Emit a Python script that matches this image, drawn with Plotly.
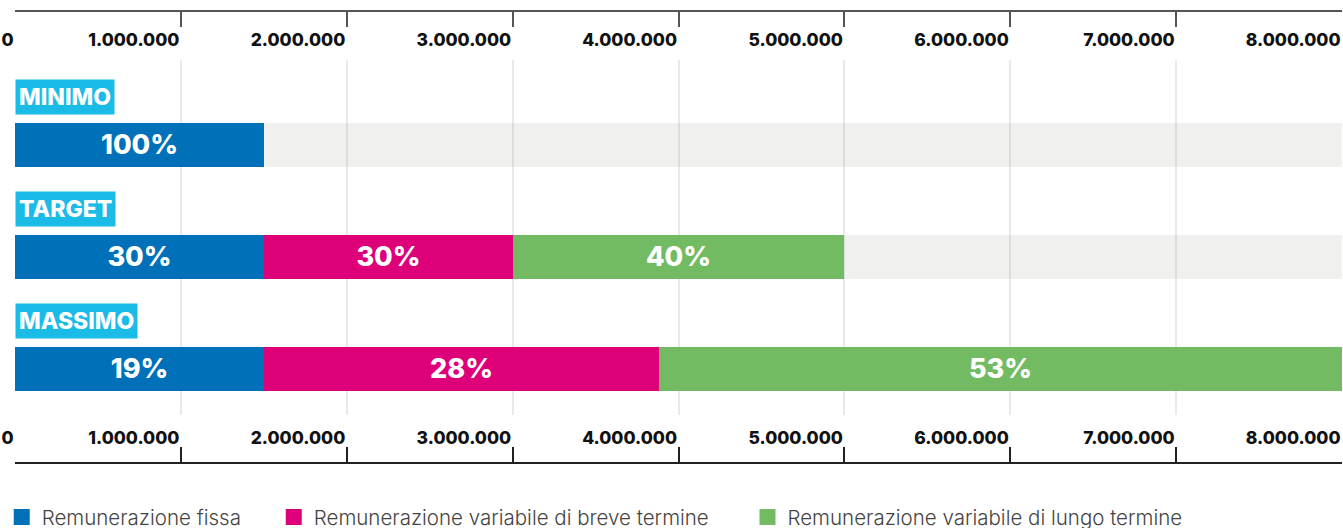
import plotly.graph_objects as go

categories = ["MINIMO", "TARGET", "MASSIMO"]
fissa = [1500000, 1500000, 1500000]
breve = [0, 1500000, 2380000]
lungo = [0, 2000000, 4120000]
pct_fissa = ["100%", "30%", "19%"]
pct_breve = ["", "30%", "28%"]
pct_lungo = ["", "40%", "53%"]
axis_max = 8000000
tick_vals = [0, 1000000, 2000000, 3000000, 4000000, 5000000, 6000000, 7000000, 8000000]
tick_text = ["0", "1.000.000", "2.000.000", "3.000.000", "4.000.000",
             "5.000.000", "6.000.000", "7.000.000", "8.000.000"]
series_names = ["Remunerazione fissa", "Remunerazione variabile di breve termine",
                "Remunerazione variabile di lungo termine"]

rows = list(range(len(categories)))
rest = [axis_max - (a + b + c) for a, b, c in zip(fissa, breve, lungo)]

BLUE = "#0070b8"
MAGENTA = "#dd0079"
GREEN = "#72bb63"
CYAN = "#1bbbe8"
FONT = "Inter"

fig = go.Figure()
bar_width = 0.393
textfont = dict(family=FONT, size=27, color="white", weight=800)
colors = [BLUE, MAGENTA, GREEN]
legend_ids = ["legend", "legend2", "legend3"]

for name, vals, txt, col in zip(series_names, [fissa, breve, lungo],
                                [pct_fissa, pct_breve, pct_lungo], colors):
    fig.add_trace(go.Bar(
        y=rows, x=vals, orientation="h", name=name, showlegend=False,
        marker=dict(color=col, line=dict(width=0)),
        width=bar_width, text=txt, textposition="inside", insidetextanchor="middle",
        textfont=textfont, constraintext="none", hoverinfo="skip",
    ))

fig.add_trace(go.Bar(
    y=rows, x=rest, orientation="h", showlegend=False,
    marker=dict(color="rgba(120,120,100,0.11)", line=dict(width=0)),
    width=bar_width, hoverinfo="skip",
))

# legend keys (one legend per series, placed like the reference)
for name, col, lg in zip(series_names, colors, legend_ids):
    fig.add_trace(go.Scatter(
        x=[None], y=[None], mode="markers", name=name, legend=lg,
        marker=dict(symbol="square", size=16, color=col, line=dict(width=0)),
        hoverinfo="skip",
    ))

# dummy traces so the top and bottom axes are drawn
for xa in ["x2", "x3"]:
    fig.add_trace(go.Scatter(x=[0], y=[0], xaxis=xa, yaxis="y", mode="markers",
                             marker=dict(opacity=0), showlegend=False, hoverinfo="skip"))

for i, cat in enumerate(categories):
    fig.add_annotation(
        x=0, y=i, xref="x", yref="y", xanchor="left", yanchor="middle", yshift=48,
        text=cat, showarrow=False, bgcolor=CYAN, borderpad=3,
        font=dict(family=FONT, size=23, color="white", weight=800),
    )

tickfont = dict(family=FONT, size=17.5, color="#111", weight=800)
common = dict(range=[0, axis_max], tickvals=tick_vals, ticktext=tick_text, showgrid=False,
              zeroline=False, ticks="inside", ticklen=15, showline=True,
              ticklabelposition="inside left", ticklabeloverflow="allow",
              tickfont=tickfont, fixedrange=True, automargin=False)

legfont = dict(family=FONT, size=20.5, color="#444", weight=300)
leg_common = dict(orientation="h", xanchor="left", y=-0.0755, yanchor="top",
                  font=legfont, itemclick=False, itemdoubleclick=False,
                  bgcolor="rgba(0,0,0,0)", itemsizing="trace")

fig.update_layout(
    width=1343, height=528,
    margin=dict(l=15, r=1, t=11, b=65, autoexpand=False),
    paper_bgcolor="white", plot_bgcolor="white",
    barmode="stack",
    bargap=0,
    xaxis=dict(range=[0, axis_max], tickvals=tick_vals, showticklabels=False, showgrid=True,
               gridcolor="#e9e9e9", gridwidth=1.5, zeroline=False, ticks="", showline=False,
               domain=[0, 1], anchor="y", automargin=False, fixedrange=True),
    xaxis2=dict(overlaying="x", side="top", anchor="free", position=1, ticklabelstandoff=19,
                tickcolor="#555", linecolor="#555", tickwidth=1.5, linewidth=1.5, **common),
    xaxis3=dict(overlaying="x", side="bottom", anchor="free", position=0, ticklabelstandoff=12,
                tickcolor="#222", linecolor="#222", tickwidth=1.5, linewidth=1.5, **common),
    yaxis=dict(domain=[0.106, 0.892], range=[2.41, -0.76], visible=False, fixedrange=True,
               automargin=False),
    legend=dict(x=-0.010, **leg_common),
    legend2=dict(x=0.195, **leg_common),
    legend3=dict(x=0.552, **leg_common),
    showlegend=True,
)

fig.write_html("out.html", config={"displayModeBar": False},
               post_script="document.body.style.margin='0';document.body.style.overflow='hidden';")
